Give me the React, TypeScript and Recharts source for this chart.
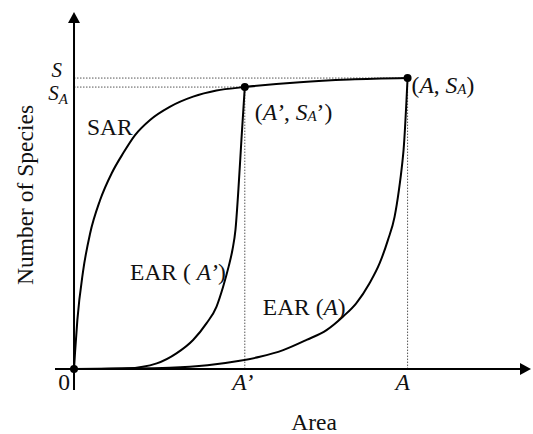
import { ComposedChart, Line, Scatter, XAxis, YAxis, ReferenceLine, ReferenceDot } from 'recharts'

// Area units: A = 100. Species units: S = S_A = 100.
const AREA_A = 100
const AREA_A1 = 51.2
const S_A = 100
const S_A1 = 96.9

const X_MIN = -5.7
const X_MAX = 137
const Y_MIN = -7.2
const Y_MAX = 122.7

// species–area relationship
const sarArea = [0, 0.3, 1.0, 2.7, 4.8, 7.8, 11.3, 14.8, 18.3, 22.8, 28.7, 35.7, 42.7, 51.2, 67.7, 82.6, 100]
const sarSpecies = [0, 5.5, 16.8, 33.5, 46.5, 58.0, 67.3, 74.3, 80.4, 85.6, 90.1, 93.6, 95.7, 96.9, 98.6, 99.5, 100]

// endemics–area relationship over A'
const earA1Area = [0, 7.8, 15.8, 24.8, 30.7, 35.7, 39.7, 42.7, 44.7, 46.35, 47.5, 48.4, 49.3, 50.2, 51.2]
const earA1Species = [0, 0.05, 0.24, 1.96, 5.4, 10.0, 15.7, 21.4, 28.3, 35.2, 41.0, 47.8, 62.0, 79.0, 96.9]

// endemics–area relationship over A
const earAArea = [0, 13.8, 28.7, 40, 49.7, 55.7, 62.7, 69.7, 75.7, 80.6, 84.6, 88.6, 91.6, 94.1, 96.1, 97.4, 98.4, 98.8, 100]
const earASpecies = [0, 0.15, 0.45, 1.3, 2.85, 4.2, 6.5, 10.0, 13.4, 18.0, 22.6, 29.5, 36.3, 44.3, 52.3, 61.5, 70.7, 75.3, 100]

const markedArea = [0, AREA_A1, AREA_A]
const markedSpecies = [0, S_A1, S_A]

const xTicks = [0, AREA_A1, AREA_A]
const yTicks = [S_A1, S_A]

const zip = (xs: number[], ys: number[]) => xs.map((x, i) => ({ x, y: ys[i] }))

const sarData = zip(sarArea, sarSpecies)
const earA1Data = zip(earA1Area, earA1Species)
const earAData = zip(earAArea, earASpecies)
const markedData = zip(markedArea, markedSpecies)

const FONT = '"Liberation Serif", "Times New Roman", serif'
const INK = '#111'
const FS = 23.5
const SUB = 15

function XTick({ x, y, payload }: any) {
  const v = payload.value
  if (v === 0) {
    return <text x={x - 4} y={y} textAnchor="end" fontFamily={FONT} fontSize={FS} fill={INK}>0</text>
  }
  if (v === AREA_A1) {
    return <text x={x - 2} y={y} textAnchor="middle" fontFamily={FONT} fontSize={FS} fill={INK} fontStyle="italic">A’</text>
  }
  return <text x={x - 5} y={y} textAnchor="middle" fontFamily={FONT} fontSize={FS} fill={INK} fontStyle="italic">A</text>
}

function YTick({ x, y, payload }: any) {
  if (payload.value === S_A) {
    return <text x={x + 7} y={y - 1} textAnchor="end" fontFamily={FONT} fontSize={21} fill={INK} fontStyle="italic">S</text>
  }
  return (
    <text x={x + 13} y={y + 13} textAnchor="end" fontFamily={FONT} fontSize={21} fill={INK} fontStyle="italic">
      S<tspan fontSize={SUB} dy={4}>A</tspan>
    </text>
  )
}

const textAt = (content: React.ReactNode) => (props: any) => (
  <text x={props.cx} y={props.cy} dominantBaseline="central" fontFamily={FONT} fontSize={FS} fill={INK}>
    {content}
  </text>
)

const arrowRight = (props: any) => {
  const { cx, cy } = props
  return <polygon points={`${cx},${cy} ${cx - 11},${cy - 6} ${cx - 11},${cy + 6}`} fill="#000" />
}
const arrowUp = (props: any) => {
  const { cx, cy } = props
  return <polygon points={`${cx},${cy} ${cx - 6},${cy + 11} ${cx + 6},${cy + 11}`} fill="#000" />
}

const dotted = { stroke: '#555', strokeWidth: 1, strokeDasharray: '1.5 1.5', ifOverflow: 'visible' as const }

export default function App() {
  return (
    <div style={{ position: 'absolute', left: 0, top: 0, width: 533, height: 434, background: '#fff' }}>
      <ComposedChart width={533} height={434} margin={{ top: 12, right: 2, bottom: 0, left: 0 }}>
        <XAxis
          type="number" dataKey="x" domain={[X_MIN, X_MAX]} allowDataOverflow ticks={xTicks}
          axisLine={false} tickLine={false} tickSize={0} tickMargin={0} height={44}
          tick={<XTick />} interval={0}
          label={{
            content: ({ viewBox }: any) => (
              <text x={viewBox.x + 259} y={viewBox.y + 40} textAnchor="middle" fontFamily={FONT} fontSize={FS} fill={INK}>Area</text>
            ),
          }}
        />
        <YAxis
          type="number" dataKey="y" domain={[Y_MIN, Y_MAX]} allowDataOverflow ticks={yTicks}
          axisLine={false} tickLine={false} tickSize={0} tickMargin={0} width={55}
          tick={<YTick />} interval={0}
          label={{
            content: ({ viewBox }: any) => {
              const cx = viewBox.x + 25
              const cy = viewBox.y + 183
              return (
                <text x={cx} y={cy} transform={`rotate(-90 ${cx} ${cy})`} textAnchor="middle" dominantBaseline="central" fontFamily={FONT} fontSize={FS} fill={INK}>
                  Number of Species
                </text>
              )
            },
          }}
        />

        {/* guide lines to S, S_A, A', A */}
        <ReferenceLine segment={[{ x: 0, y: S_A }, { x: AREA_A, y: S_A }]} {...dotted} />
        <ReferenceLine segment={[{ x: 0, y: S_A1 }, { x: AREA_A1, y: S_A1 }]} {...dotted} />
        <ReferenceLine segment={[{ x: AREA_A1, y: 0 }, { x: AREA_A1, y: S_A1 }]} {...dotted} />
        <ReferenceLine segment={[{ x: AREA_A, y: 0 }, { x: AREA_A, y: S_A }]} {...dotted} />

        {/* axes with arrowheads */}
        <ReferenceLine segment={[{ x: X_MIN, y: 0 }, { x: X_MAX - 3, y: 0 }]} stroke="#000" strokeWidth={2} ifOverflow="visible" />
        <ReferenceLine segment={[{ x: 0, y: Y_MIN }, { x: 0, y: Y_MAX - 3.5 }]} stroke="#000" strokeWidth={2} ifOverflow="visible" />
        <ReferenceDot x={X_MAX} y={0} r={0} ifOverflow="visible" shape={arrowRight} />
        <ReferenceDot x={0} y={Y_MAX} r={0} ifOverflow="visible" shape={arrowUp} />

        <Line data={sarData} dataKey="y" type="monotone" stroke="#000" strokeWidth={2} dot={false} isAnimationActive={false} />
        <Line data={earA1Data} dataKey="y" type="monotone" stroke="#000" strokeWidth={2} dot={false} isAnimationActive={false} />
        <Line data={earAData} dataKey="y" type="monotone" stroke="#000" strokeWidth={2} dot={false} isAnimationActive={false} />
        <Scatter data={markedData} dataKey="y" fill="#000" isAnimationActive={false}
          shape={(p: any) => <circle cx={p.cx} cy={p.cy} r={4} fill="#000" />} />

        {/* curve and point annotations */}
        <ReferenceDot x={3.9} y={83.2} r={0} ifOverflow="visible" shape={textAt('SAR')} />
        <ReferenceDot x={16.8} y={33.3} r={0} ifOverflow="visible"
          shape={textAt(<>EAR ( <tspan fontStyle="italic">A’</tspan>)</>)} />
        <ReferenceDot x={56.6} y={21.3} r={0} ifOverflow="visible"
          shape={textAt(<>EAR (<tspan fontStyle="italic">A</tspan>)</>)} />
        <ReferenceDot x={54.2} y={88.3} r={0} ifOverflow="visible"
          shape={textAt(<>(<tspan fontStyle="italic">A’</tspan>, <tspan fontStyle="italic">S</tspan><tspan fontStyle="italic" fontSize={SUB} dy={4}>A</tspan><tspan dy={-4}>’)</tspan></>)} />
        <ReferenceDot x={101.2} y={97.6} r={0} ifOverflow="visible"
          shape={textAt(<>(<tspan fontStyle="italic">A</tspan>, <tspan fontStyle="italic">S</tspan><tspan fontStyle="italic" fontSize={SUB} dy={4}>A</tspan><tspan dy={-4}>)</tspan></>)} />
      </ComposedChart>
    </div>
  )
}
